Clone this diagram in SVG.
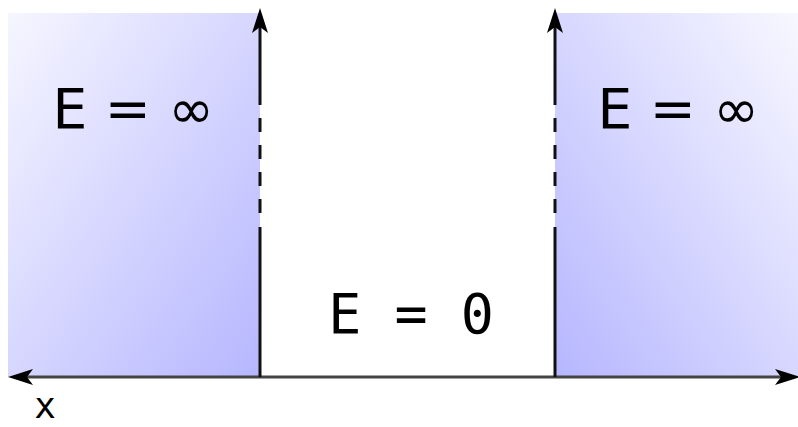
<svg xmlns="http://www.w3.org/2000/svg" width="798" height="427" viewBox="0 0 798 427">
  <defs>
    <linearGradient id="gl" x1="0" y1="0" x2="1" y2="1">
      <stop offset="0" stop-color="#f6f6ff"/>
      <stop offset="1" stop-color="#b6b6ff"/>
    </linearGradient>
    <linearGradient id="gr" x1="0" y1="1" x2="1" y2="0">
      <stop offset="0" stop-color="#b6b6ff"/>
      <stop offset="1" stop-color="#f8f8ff"/>
    </linearGradient>
    <marker id="arr" markerUnits="userSpaceOnUse" markerWidth="40" markerHeight="40" refX="0" refY="0" viewBox="-10 -10 40 20" orient="auto-start-reverse" overflow="visible">
      <path d="M19,0 L-6,-8 L0,0 L-6,8 Z" fill="#000"/>
    </marker>
    <style>
      .big { font-family: "DejaVu Sans", "Liberation Sans", sans-serif; font-size: 55px; fill: #000; }
      .mono { font-family: "DejaVu Sans Mono", "Liberation Mono", monospace; font-size: 55px; fill: #000; }
      .wall { stroke: #111; stroke-width: 3; fill: none; }
      .dash { stroke-dasharray: 14 13; }
      .axis { stroke: #444; stroke-width: 3; fill: none; }
    </style>
  </defs>

  <g id="left-region">
    <rect x="8" y="13" width="252" height="364" fill="url(#gl)"/>
    <text class="big" x="52.5" y="128">E = ∞</text>
  </g>

  <g id="right-region">
    <rect x="555" y="13" width="245" height="364" fill="url(#gr)"/>
    <text class="big" x="597.5" y="128">E = ∞</text>
  </g>

  <g id="well">
    <text class="mono" x="411" y="333" text-anchor="middle">E = 0</text>
  </g>

  <g id="x-label">
    <text class="mono" x="45" y="418" text-anchor="middle" style="font-size:36px">x</text>
  </g>

  <g id="connectors">
    <path class="axis" d="M27,377 L781,377" marker-start="url(#arr)" marker-end="url(#arr)"/>
    <path class="wall" d="M260,377 L260,227"/>
    <path class="wall dash" d="M260,213 L260,105"/>
    <path class="wall" d="M260,105 L260,27" marker-end="url(#arr)"/>
    <path class="wall" d="M555,377 L555,227"/>
    <path class="wall dash" d="M555,213 L555,105"/>
    <path class="wall" d="M555,105 L555,27" marker-end="url(#arr)"/>
  </g>
</svg>
